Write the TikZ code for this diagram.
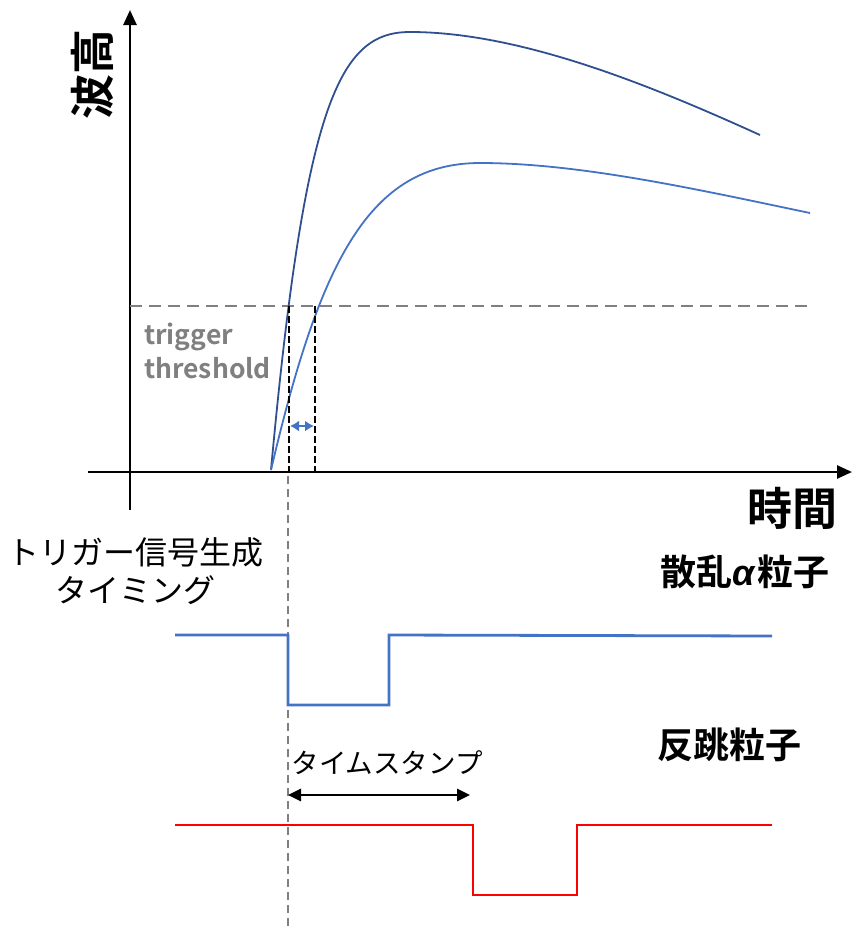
\documentclass[tikz,border=0pt]{standalone}
\usepackage{fontspec}
\newfontfamily\jp{Noto Sans CJK JP}
\newfontfamily\jpb{Noto Sans CJK JP Bold}
\newfontfamily\grk{Liberation Sans}
\usetikzlibrary{arrows.meta}
\definecolor{cblue}{HTML}{4472C4}
\definecolor{cdark}{HTML}{2F4F8F}
\definecolor{cgray}{HTML}{808080}
\definecolor{cred}{HTML}{FF0000}
\tikzset{
  axisline/.style={line width=2.6pt,-{Triangle[length=15pt,width=13pt]}},
  pulse/.style={line width=2.8pt},
  curveline/.style={line width=1.8pt},
  vdash/.style={line width=2.6pt,dash pattern=on 7pt off 3pt},
  tdash/.style={cgray,line width=2.8pt,dash pattern=on 12pt off 7pt},
  gdash/.style={cgray,line width=2.2pt,dash pattern=on 8pt off 5pt},
}
\begin{document}
\begin{tikzpicture}[x=1pt,y=-1pt]
\useasboundingbox (0,0) rectangle (853,930);
% axes
\coordinate (yb) at (130,510);
\coordinate (yt) at (130,10);
\coordinate (xl) at (88,472);
\coordinate (xr) at (852,472);
\draw[axisline] (yb) -- (yt);
\draw[axisline] (xl) -- (xr);
\node[rotate=90,font={\jpb\fontsize{45}{50}\selectfont}] (yl) at (92,74) {波高};
\node[font={\jpb\fontsize{45}{50}\selectfont}] (xlab) at (792,508) {時間};
% threshold
\coordinate (t1) at (130,306);
\coordinate (t2) at (812,306);
\draw[tdash] (t1) -- (t2);
\node[cgray,align=left,anchor=north west,inner sep=0pt,font={\jpb\fontsize{26.5}{34}\selectfont}] (thr) at (144,323) {trigger\\threshold};
% curves
\coordinate (c0) at (271,470);
\draw[cdark,curveline] (c0) .. controls (305,100) and (340,32) .. (410,32)
  .. controls (520,32) and (650,85) .. (760,135);
\draw[cblue,curveline] (c0) .. controls (320,260) and (370,163) .. (480,163)
  .. controls (580,163) and (700,190) .. (810,213);
% dashed verticals
\coordinate (d1t) at (289,306);
\coordinate (d1b) at (289,472);
\coordinate (d2t) at (315,306);
\coordinate (d2b) at (315,472);
\draw[vdash] (d1t) -- (d1b);
\draw[vdash] (d2t) -- (d2b);
\coordinate (a1) at (290,426);
\coordinate (a2) at (314,426);
\draw[cblue,line width=2pt,{Latex[length=9pt,width=11pt]}-{Latex[length=9pt,width=11pt]}] (a1) -- (a2);
% trigger timing line
\coordinate (g1) at (288,476);
\coordinate (g2) at (288,926);
\draw[gdash] (g1) -- (g2);
\node[align=center,font={\jp\fontsize{32}{38}\selectfont}] (trig) at (136,571) {トリガー信号生成\\タイミング};
% scattered alpha
\node[font={\jpb\fontsize{36}{40}\selectfont}] (sa) at (745,572) {散乱{\grk\bfseries\itshape α}\kern2pt粒子};
\coordinate (p1) at (175,635);
\coordinate (p2) at (288,635);
\coordinate (p3) at (288,705);
\coordinate (p4) at (389,705);
\coordinate (p5) at (389,635);
\coordinate (p6) at (772,636);
\draw[cblue,pulse] (p1) -- (p2) -- (p3) -- (p4) -- (p5) -- (p6);
% recoil
\node[font={\jpb\fontsize{36}{40}\selectfont}] (rc) at (729,745) {反跳粒子};
\node[anchor=west,font={\jp\fontsize{27.5}{32}\selectfont}] (ts) at (288,763) {タイムスタンプ};
\coordinate (b1) at (288,795);
\coordinate (b2) at (470,795);
\draw[line width=2.8pt,{Triangle[length=13pt,width=12pt]}-{Triangle[length=13pt,width=12pt]}] (b1) -- (b2);
\coordinate (r1) at (175,825);
\coordinate (r2) at (473,825);
\coordinate (r3) at (473,895);
\coordinate (r4) at (577,895);
\coordinate (r5) at (577,825);
\coordinate (r6) at (772,825);
\draw[cred,pulse] (r1) -- (r2) -- (r3) -- (r4) -- (r5) -- (r6);
\end{tikzpicture}
\end{document}
